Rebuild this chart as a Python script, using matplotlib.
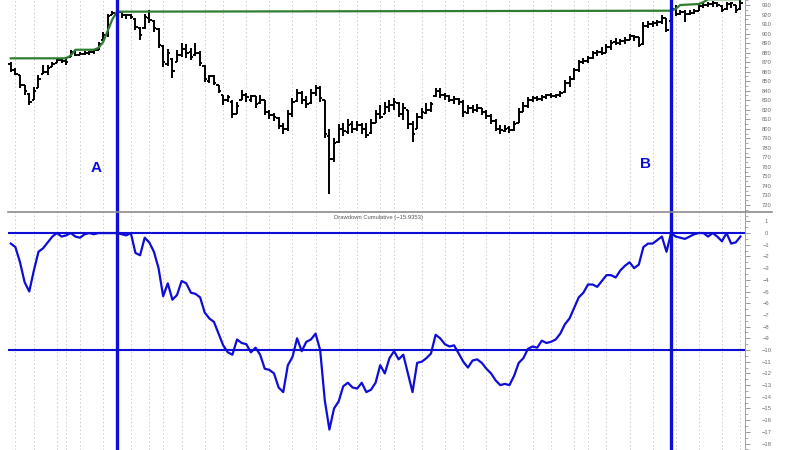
import numpy as np
import matplotlib
matplotlib.use('Agg')
import matplotlib.pyplot as plt
from matplotlib.lines import Line2D
from matplotlib.ticker import MultipleLocator

# ----------------------------------------------------------------
# Data (one entry per trading day)
# ----------------------------------------------------------------
opens = [868, 862, 857, 846, 837, 830, 843, 858, 860, 865, 869, 872, 871, 875, 881, 878, 879, 880, 881, 883,
         893, 899, 919, 920, 923, 920, 919, 915, 906, 906, 916, 913, 905, 887, 868, 873, 870, 877, 884, 881,
         877, 880, 866, 850, 855, 846, 836, 830, 828, 815, 830, 835, 830, 834, 827, 830, 818, 814, 811, 803,
         800, 815, 829, 838, 830, 827, 838, 843, 830, 792, 768, 786, 800, 797, 805, 800, 804, 800, 796, 806,
         816, 815, 823, 825, 827, 815, 820, 805, 800, 812, 817, 820, 834, 840, 836, 834, 830, 831, 828, 817,
         822, 820, 822, 818, 813, 808, 800, 798, 801, 799, 806, 818, 824, 830, 832, 831, 833, 835, 834, 835,
         839, 848, 852, 862, 870, 871, 874, 880, 881, 880, 886, 891, 890, 892, 893, 897, 896, 889, 908, 910,
         911, 912, 916, 913, 926, 921, 923, 921, 922, 924, 929, 930, 931, 932, 929, 926, 931, 930, 926]
highs = [870, 864, 857, 846, 838, 844, 856, 867, 867, 870, 874, 873, 875, 883, 883, 881, 882, 882, 884, 891,
         902, 921, 924, 925, 923, 921, 921, 916, 907, 921, 925, 914, 906, 888, 884, 874, 883, 890, 889, 885,
         890, 882, 867, 857, 857, 846, 836, 836, 830, 828, 841, 838, 836, 834, 836, 830, 820, 817, 812, 806,
         820, 832, 842, 840, 834, 842, 846, 845, 830, 800, 790, 805, 806, 810, 808, 808, 806, 806, 810, 820,
         825, 828, 830, 832, 828, 827, 820, 808, 817, 822, 827, 828, 843, 843, 838, 835, 834, 832, 830, 825,
         825, 826, 822, 820, 815, 810, 804, 804, 803, 808, 822, 828, 833, 834, 834, 835, 837, 838, 837, 840,
         851, 855, 864, 872, 874, 876, 882, 883, 886, 889, 893, 895, 894, 896, 900, 898, 896, 912, 913, 913,
         914, 919, 916, 930, 930, 925, 925, 925, 926, 932, 933, 933, 934, 933, 930, 933, 933, 930, 935]
lows = [860, 857, 843, 836, 825, 830, 843, 858, 857, 865, 869, 869, 867, 875, 876, 877, 877, 878, 879, 883,
        893, 896, 919, 918, 916, 915, 915, 904, 893, 905, 911, 902, 885, 865, 866, 853, 870, 875, 874, 872,
        876, 866, 849, 848, 846, 838, 825, 828, 811, 815, 830, 828, 828, 822, 826, 814, 810, 808, 800, 795,
        798, 812, 828, 826, 822, 826, 834, 828, 790, 732, 765, 785, 792, 795, 796, 798, 794, 790, 795, 806,
        810, 815, 818, 820, 812, 809, 800, 786, 800, 810, 815, 818, 833, 832, 830, 828, 826, 825, 812, 815,
        817, 818, 814, 810, 805, 798, 795, 797, 796, 798, 806, 818, 822, 828, 829, 829, 831, 832, 832, 833,
        838, 844, 851, 860, 868, 869, 873, 876, 877, 880, 883, 888, 888, 889, 893, 892, 886, 888, 906, 907,
        908, 910, 902, 912, 918, 920, 912, 920, 921, 924, 927, 928, 928, 928, 923, 925, 927, 922, 925]
closes = [862, 858, 846, 840, 828, 840, 852, 860, 864, 868, 872, 871, 870, 881, 878, 879, 880, 881, 883, 889,
          899, 918, 922, 924, 920, 919, 917, 907, 899, 917, 914, 906, 888, 870, 880, 861, 878, 884, 880, 875,
          880, 869, 852, 855, 848, 840, 830, 833, 815, 824, 835, 833, 834, 826, 830, 818, 814, 812, 803, 800,
          815, 828, 838, 830, 826, 838, 843, 832, 795, 768, 785, 800, 798, 804, 800, 804, 800, 793, 806, 815,
          812, 823, 825, 828, 815, 822, 805, 795, 812, 818, 820, 826, 840, 836, 834, 830, 831, 828, 818, 822,
          820, 822, 818, 813, 808, 800, 799, 800, 799, 805, 818, 824, 830, 832, 831, 833, 835, 834, 835, 838,
          848, 852, 862, 870, 871, 874, 880, 881, 880, 886, 890, 890, 892, 893, 897, 896, 888, 908, 910, 911,
          912, 916, 904, 926, 921, 923, 921, 922, 924, 929, 930, 931, 932, 930, 925, 931, 932, 925, 932]

# running-high reference line (green)
peak_days = [0, 12, 13, 14, 18, 19, 20, 21, 22, 23, 143, 144, 145, 149, 150, 151, 158]
peak_vals = [874, 874, 877, 883, 883, 885, 891, 903, 915, 923, 924, 926, 930, 931, 933, 936, 936]

drawdown = [-0.9, -1.2, -2.5, -4.2, -5.0, -3.2, -1.6, -1.3, -0.8, -0.3, 0.0, -0.3, -0.2, 0.0, -0.3, -0.4, -0.1, 0.0, -0.1, 0.0,
            0.0, 0.0, 0.0, 0.0, -0.1, -0.2, 0.0, -1.7, -1.9, -0.4, -0.8, -1.6, -3.0, -5.4, -4.3, -5.7, -5.3, -4.1, -4.3, -5.1,
            -5.2, -5.5, -6.8, -7.3, -7.6, -8.6, -9.6, -10.2, -10.4, -9.1, -9.4, -9.5, -10.2, -9.8, -10.4, -11.6, -11.7, -12.0, -13.2, -13.6,
            -11.3, -10.6, -9.0, -10.1, -9.3, -9.1, -8.6, -10.0, -14.3, -16.8, -15.0, -14.4, -13.1, -12.8, -13.2, -13.3, -12.8, -13.6, -13.4, -12.8,
            -11.3, -12.0, -10.7, -10.1, -10.8, -10.4, -12.0, -13.6, -11.1, -11.0, -10.7, -10.3, -8.7, -9.0, -9.5, -9.7, -9.6, -10.3, -11.0, -11.5,
            -10.9, -10.8, -11.1, -11.6, -12.0, -12.6, -13.0, -12.9, -13.0, -12.2, -11.1, -10.7, -9.9, -9.7, -9.8, -9.2, -9.4, -9.3, -9.1, -8.6,
            -7.8, -7.3, -6.4, -5.5, -5.1, -4.4, -4.4, -4.6, -4.1, -3.6, -3.6, -3.8, -3.2, -2.8, -2.5, -3.0, -2.7, -1.2, -0.9, -0.9,
            -0.6, -0.3, -1.6, 0.0, -0.3, -0.4, -0.5, -0.3, -0.1, 0.0, 0.0, -0.3, 0.0, -0.3, -0.7, 0.0, -0.9, -0.8, -0.3]

week_days = [1, 5, 10, 12, 15, 20, 26, 30, 33, 37, 42, 46, 51, 56, 61, 66, 71, 75, 80, 83,
             89, 94, 98, 103, 108, 113, 117, 122, 125, 129, 134, 139, 144, 149, 154, 158]

event_days = [23, 143]
event_names = ['A', 'B']
dd_levels = [0, -10]

BLUE = '#0d0dd6'
GREEN = '#2f7d2f'
GRID = '#cccccc'

days = np.arange(len(closes))

fig = plt.figure(figsize=(8, 4.5), dpi=100)
ax1 = fig.add_axes([0.01, 1 - 212 / 450, 0.92125, 212 / 450])
ax2 = fig.add_axes([0.01, 0.0, 0.92125, 1 - 212 / 450])

for ax in (ax1, ax2):
    ax.set_xlim(-0.6, 159.0)
    for d in week_days:
        ax.axvline(d, color=GRID, lw=0.7, ls=(0, (1.5, 2.5)), zorder=0)
    for s in ('top', 'left', 'bottom'):
        ax.spines[s].set_visible(False)
    ax.spines['right'].set_color('#a0a0a0')
    ax.spines['right'].set_linewidth(0.7)
    ax.yaxis.tick_right()
    ax.set_xticks([])
    ax.tick_params(axis='y', which='major', direction='out', length=3.5, width=0.6,
                   colors='#8a8a8a', labelsize=4.2, labelcolor='#6e6e6e')
    ax.tick_params(axis='y', which='minor', direction='out', length=2, width=0.5, colors='#8a8a8a')

# ---------------- top: price bars ----------------
ax1.vlines(days, lows, highs, color='black', lw=1.4, zorder=3)
ax1.hlines(opens, days - 0.5, days, color='black', lw=1.4, zorder=3)
ax1.hlines(closes, days, days + 0.5, color='black', lw=1.4, zorder=3)
ax1.plot(peak_days, peak_vals, color=GREEN, lw=1.6, zorder=4)
ax1.set_ylim(712.6, 935.25)
ax1.yaxis.set_minor_locator(MultipleLocator(5))
ax1.set_yticks(np.arange(720, 931, 10))
ax1.set_yticklabels([str(v) for v in range(720, 931, 10)])

for d in event_days:
    ax1.axvline(d, color=BLUE, lw=2.4, zorder=5)
ax1.text(18.5, 759, event_names[0], color=BLUE, fontsize=11, fontweight='bold', ha='center', va='center',
         family='Liberation Sans')
ax1.text(137.4, 763, event_names[1], color=BLUE, fontsize=11, fontweight='bold', ha='center', va='center',
         family='Liberation Sans')

# ---------------- bottom: cumulative drawdown ----------------
ax2.plot(days, drawdown, color=BLUE, lw=1.6, zorder=4)
for lvl in dd_levels:
    ax2.axhline(lvl, color=BLUE, lw=1.5, zorder=3)
for d in event_days:
    ax2.axvline(d, color=BLUE, lw=2.4, zorder=5)
ax2.set_ylim(-18.55, 1.8)
ax2.set_yticks(np.arange(-18, 2, 1))
ax2.set_yticklabels([str(v).replace('-', '\u2212') for v in range(-18, 2, 1)])
ax2.yaxis.set_minor_locator(MultipleLocator(0.5))

for ax in (ax1, ax2):
    for lab in ax.get_yticklabels():
        lab.set_family('Liberation Sans')
        lab.set_ha('center')
    ax.yaxis.set_tick_params(pad=12)

# panel separator and caption
fig.add_artist(Line2D([8 / 800, 772 / 800], [1 - 212 / 450, 1 - 212 / 450],
                      color='#8c8c8c', lw=1.2))
fig.text(378 / 800, 1 - 217 / 450, 'Drawdown Cumulative (\u221215.9353)', fontsize=4.2,
         color='#555555', ha='center', va='center', family='Liberation Sans')

fig.savefig('out.png', dpi=100)
